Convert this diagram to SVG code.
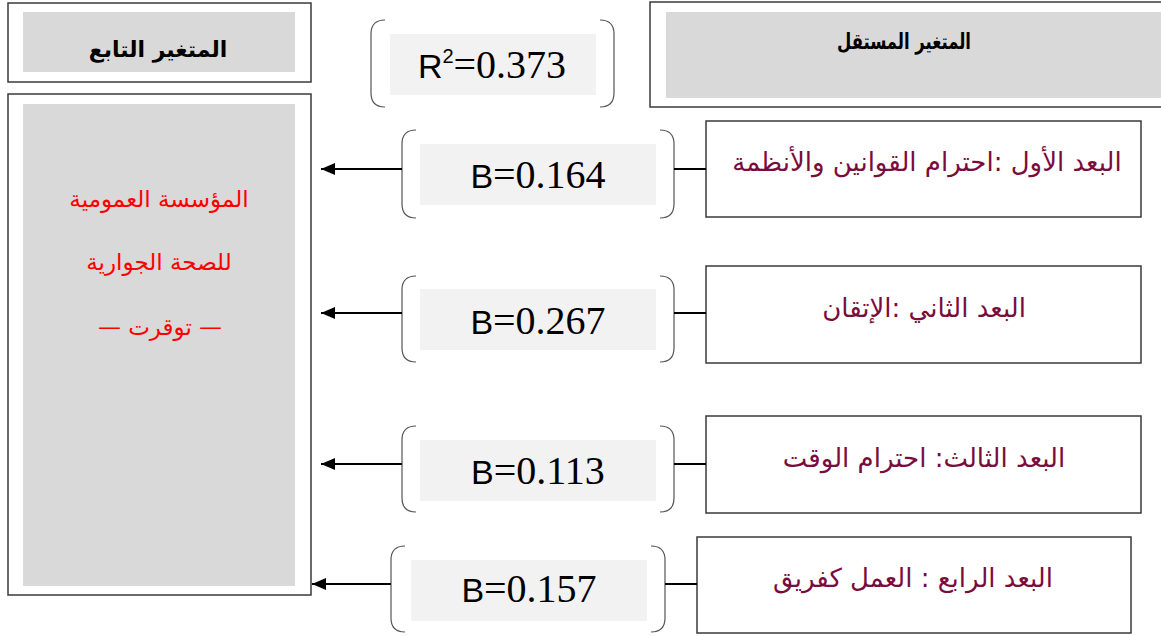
<svg xmlns="http://www.w3.org/2000/svg" width="1161" height="636" viewBox="0 0 1161 636">
  <defs>
    <style>
      .frame { fill: #ffffff; stroke: #3a3a3a; stroke-width: 1.5; }
      .shade { fill: #d9d9d9; }
      .coef-bg { fill: #f2f2f2; }
      .brace { fill: none; stroke: #555555; stroke-width: 1.2; }
      .link { fill: none; stroke: #000000; stroke-width: 2; }
      .head { font-family: "DejaVu Sans", sans-serif; font-weight: bold; fill: #000000; }
      .dim { font-family: "DejaVu Sans", sans-serif; font-size: 26px; fill: #7a0c3c; }
      .dep { font-family: "DejaVu Sans", sans-serif; font-size: 23px; fill: #ff0000; }
      .num { font-size: 40px; fill: #000000; }
    </style>
    <marker id="arrow" viewBox="0 0 14 12" refX="14" refY="6" markerWidth="14" markerHeight="12" markerUnits="userSpaceOnUse" orient="auto">
      <path d="M14,6 L0,0 L0,12 Z" fill="#000000"/>
    </marker>
  </defs>

  <!-- header: dependent variable -->
  <g id="head-dependent">
    <rect class="frame" x="8" y="3" width="303" height="79"/>
    <rect class="shade" x="23" y="12" width="272" height="60"/>
    <text class="head" x="158" y="57" font-size="22" text-anchor="middle" direction="rtl">المتغير التابع</text>
  </g>

  <!-- header: independent variable -->
  <g id="head-independent">
    <rect class="frame" x="650" y="2" width="512" height="105"/>
    <rect class="shade" x="666" y="12" width="495" height="86"/>
    <text class="head" x="904" y="49" font-size="22" text-anchor="middle" direction="rtl" textLength="134" lengthAdjust="spacingAndGlyphs">المتغير المستقل</text>
  </g>

  <!-- coefficient of determination -->
  <g id="r-squared">
    <path class="brace" d="M385,20 Q371,20 371,34 V93 Q371,107 385,107"/>
    <path class="brace" d="M600,20 Q614,20 614,34 V93 Q614,107 600,107"/>
    <rect class="coef-bg" x="390" y="34" width="206" height="61"/>
    <text class="num" x="492" y="78" text-anchor="middle" font-family="Liberation Serif, Times New Roman, serif"><tspan font-family="Liberation Sans, Arial, sans-serif" font-size="34">R</tspan><tspan font-family="Liberation Sans, Arial, sans-serif" font-size="20" dy="-15">2</tspan><tspan dy="15">=0.373</tspan></text>
  </g>

  <!-- dependent variable: the institution -->
  <g id="dependent">
    <rect class="frame" x="8" y="94" width="303" height="501"/>
    <rect class="shade" x="23" y="104" width="272" height="482"/>
    <text class="dep" x="159" y="207" text-anchor="middle" direction="rtl">المؤسسة العمومية</text>
    <text class="dep" x="159" y="270" font-size="26" text-anchor="middle" direction="rtl">للصحة الجوارية</text>
    <text class="dep" x="160" y="335" font-size="25" text-anchor="middle" direction="rtl">— توقرت —</text>
  </g>

  <!-- dimension 1 -->
  <g id="dim1">
    <rect class="frame" x="706" y="121" width="435" height="96"/>
    <text class="dim" x="927" y="171" text-anchor="middle" direction="rtl">البعد الأول :احترام القوانين والأنظمة</text>
  </g>
  <g id="coef1">
    <path class="brace" d="M416,130 Q402,130 402,144 V204 Q402,218 416,218"/>
    <path class="brace" d="M660,130 Q674,130 674,144 V204 Q674,218 660,218"/>
    <rect class="coef-bg" x="420" y="144" width="236" height="61"/>
    <text class="num" x="538" y="188" text-anchor="middle" font-family="Liberation Serif, Times New Roman, serif"><tspan font-family="Liberation Sans, Arial, sans-serif" font-size="34">B</tspan>=0.164</text>
  </g>

  <!-- dimension 2 -->
  <g id="dim2">
    <rect class="frame" x="706" y="266" width="435" height="97"/>
    <text class="dim" x="924" y="317" text-anchor="middle" direction="rtl">البعد الثاني :الإتقان</text>
  </g>
  <g id="coef2">
    <path class="brace" d="M416,276 Q402,276 402,290 V348 Q402,362 416,362"/>
    <path class="brace" d="M660,276 Q674,276 674,290 V348 Q674,362 660,362"/>
    <rect class="coef-bg" x="420" y="289" width="236" height="61"/>
    <text class="num" x="538" y="334" text-anchor="middle" font-family="Liberation Serif, Times New Roman, serif"><tspan font-family="Liberation Sans, Arial, sans-serif" font-size="34">B</tspan>=0.267</text>
  </g>

  <!-- dimension 3 -->
  <g id="dim3">
    <rect class="frame" x="706" y="416" width="435" height="97"/>
    <text class="dim" x="924" y="467" text-anchor="middle" direction="rtl">البعد الثالث: احترام الوقت</text>
  </g>
  <g id="coef3">
    <path class="brace" d="M416,426 Q402,426 402,440 V498 Q402,512 416,512"/>
    <path class="brace" d="M660,426 Q674,426 674,440 V498 Q674,512 660,512"/>
    <rect class="coef-bg" x="420" y="440" width="236" height="61"/>
    <text class="num" x="538" y="484" text-anchor="middle" font-family="Liberation Serif, Times New Roman, serif"><tspan font-family="Liberation Sans, Arial, sans-serif" font-size="34">B</tspan>=0.113</text>
  </g>

  <!-- dimension 4 -->
  <g id="dim4">
    <rect class="frame" x="697" y="537" width="434" height="96"/>
    <text class="dim" x="913" y="587" text-anchor="middle" direction="rtl">البعد الرابع : العمل كفريق</text>
  </g>
  <g id="coef4">
    <path class="brace" d="M405,546 Q391,546 391,560 V618 Q391,632 405,632"/>
    <path class="brace" d="M651,546 Q665,546 665,560 V618 Q665,632 651,632"/>
    <rect class="coef-bg" x="411" y="560" width="236" height="61"/>
    <text class="num" x="529" y="602" text-anchor="middle" font-family="Liberation Serif, Times New Roman, serif"><tspan font-family="Liberation Sans, Arial, sans-serif" font-size="34">B</tspan>=0.157</text>
  </g>

  <!-- connectors: dimension -> coefficient -> dependent variable -->
  <g id="connectors">
    <line class="link" x1="706" y1="169" x2="674" y2="169"/>
    <line class="link" x1="402" y1="169" x2="321" y2="169" marker-end="url(#arrow)"/>
    <line class="link" x1="706" y1="313" x2="674" y2="313"/>
    <line class="link" x1="402" y1="313" x2="321" y2="313" marker-end="url(#arrow)"/>
    <line class="link" x1="706" y1="464" x2="674" y2="464"/>
    <line class="link" x1="402" y1="464" x2="321" y2="464" marker-end="url(#arrow)"/>
    <line class="link" x1="697" y1="584" x2="665" y2="584"/>
    <line class="link" x1="391" y1="584" x2="312" y2="584" marker-end="url(#arrow)"/>
  </g>
</svg>
